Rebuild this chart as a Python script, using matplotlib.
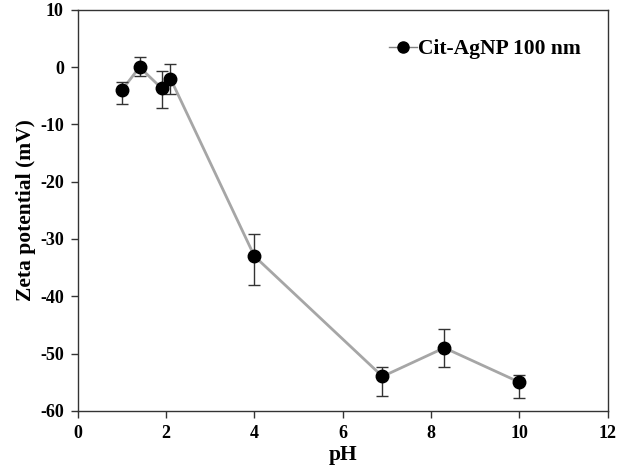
import numpy as np
import matplotlib
matplotlib.use('Agg')
import matplotlib.pyplot as plt

# Zeta potential of citrate-capped AgNP (100 nm) against pH
ph = [1.0, 1.4, 1.9, 2.1, 4.0, 6.9, 8.3, 10.0]
zeta = [-4.0, 0.0, -3.7, -2.0, -33.0, -54.0, -49.0, -55.0]
err_low = [2.5, 1.6, 3.4, 2.7, 5.0, 3.4, 3.3, 2.7]
err_high = [1.4, 1.7, 3.0, 2.6, 3.9, 1.6, 3.2, 1.3]

plt.rcParams['font.family'] = ['Liberation Serif', 'DejaVu Serif']
plt.rcParams['font.weight'] = 'bold'
plt.rcParams['axes.unicode_minus'] = False

fig = plt.figure(figsize=(6.17, 4.69), dpi=100)
ax = fig.add_axes([0.126, 0.124, 0.859, 0.855])

# grey connecting line underneath
ax.plot(ph, zeta, color='#a6a6a6', lw=2, zorder=1)
ax.errorbar(ph, zeta, yerr=[err_low, err_high], fmt='none', ecolor='#333333',
            elinewidth=1, capsize=4, capthick=1, zorder=2)
ax.plot(ph, zeta, 'o', color='black', ms=9, zorder=3, linestyle='none')

# legend proxy: line with marker
ax.plot([], [], '-o', color='#808080', mfc='black', mec='black', ms=8, lw=1,
        label='Cit-AgNP 100 nm')
ax.legend(loc='upper right', frameon=False, fontsize=15.5,
          handlelength=1.3, handletextpad=0.05,
          bbox_to_anchor=(0.985, 0.975))

ax.set_xlim(0, 12)
ax.set_ylim(-60, 10)
ax.set_xticks(np.arange(0, 13, 2))
ax.set_yticks(np.arange(-60, 11, 10))
ax.tick_params(direction='out', length=5, width=1, labelsize=13, color='#333333')
ax.tick_params(axis='x', pad=5)
ax.tick_params(axis='y', pad=5)
for lab in ax.get_xticklabels() + ax.get_yticklabels():
    lab.set_fontweight('bold')
for s in ax.spines.values():
    s.set_color('#333333')
    s.set_linewidth(1)

ax.set_xlabel('pH', fontsize=15.5, fontweight='bold', labelpad=2)
ax.set_ylabel('Zeta potential (mV)', fontsize=15.5, fontweight='bold', labelpad=3)

plt.savefig('out.png', dpi=100)
